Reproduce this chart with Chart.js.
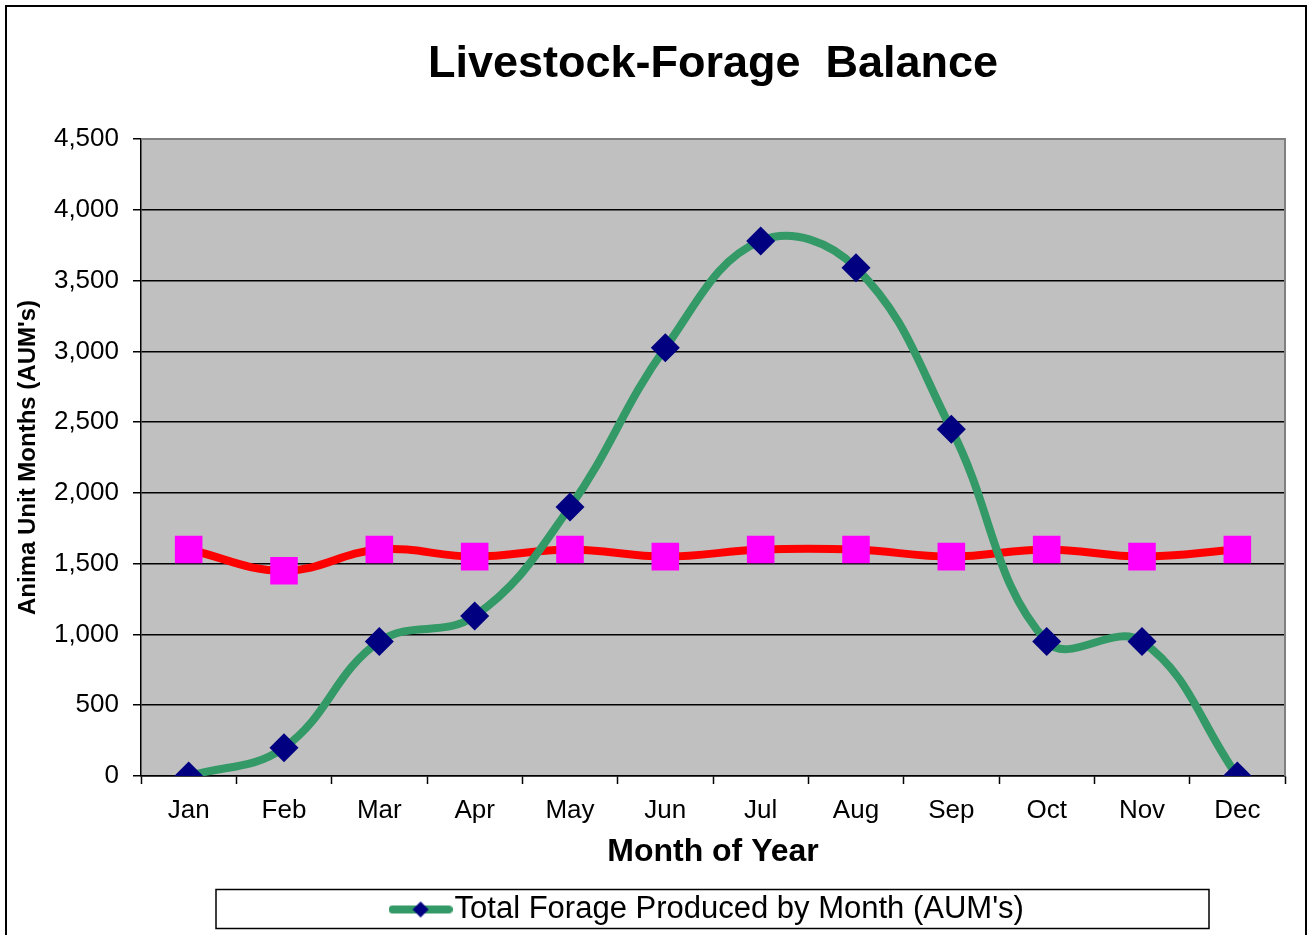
<!DOCTYPE html>
<html>
<head>
<meta charset="utf-8">
<script src="https://cdn.jsdelivr.net/npm/chart.js@4/dist/chart.umd.min.js"></script>
<style>
  html,body{margin:0;padding:0;background:#fff}
  #wrap{width:1311px;height:935px}
</style>
</head>
<body>
<div id="wrap"><canvas id="chart" width="1311" height="935"></canvas></div>
<script>
const months=['Jan','Feb','Mar','Apr','May','Jun','Jul','Aug','Sep','Oct','Nov','Dec']
const forage=[0,200,950,1130,1900,3025,3780,3590,2450,950,950,0]
const demand=[1600,1450,1600,1550,1600,1550,1600,1600,1550,1600,1550,1600]
const forageLabel="Total Forage Produced by Month (AUM's)"
const demandLabel="Livestock Demand by Month (AUM's)"
const font='"Liberation Sans", Arial, sans-serif'

// legend symbol: green line with navy diamond
function legendSymbol(){
    const c=document.createElement('canvas')
    c.width=64
    c.height=22
    const g=c.getContext('2d')
    g.strokeStyle='#339966'
    g.lineWidth=8
    g.lineCap='round'
    g.beginPath()
    g.moveTo(4,11)
    g.lineTo(60,11)
    g.stroke()
    g.fillStyle='#000080'
    g.beginPath()
    g.moveTo(32,3)
    g.lineTo(40,11)
    g.lineTo(32,19)
    g.lineTo(24,11)
    g.closePath()
    g.fill()
    return c
}
const symbol=legendSymbol()

const frame={
    id:'frame',
    beforeDraw(chart){
        const {ctx,chartArea:a}=chart
        ctx.save()
        ctx.fillStyle='#fff'
        ctx.fillRect(0,0,chart.width,chart.height)
        ctx.strokeStyle='#000'
        ctx.lineWidth=2
        ctx.strokeRect(6,6,1300,chart.height+20)
        ctx.fillStyle='#C0C0C0'
        ctx.fillRect(a.left,a.top,a.right-a.left,a.bottom-a.top)
        ctx.restore()
    },
    beforeDatasetsDraw(chart){
        const {ctx,chartArea:a}=chart
        ctx.save()
        ctx.strokeStyle='#808080'
        ctx.lineWidth=2
        ctx.beginPath()
        ctx.moveTo(a.left,a.top)
        ctx.lineTo(a.right,a.top)
        ctx.lineTo(a.right,a.bottom)
        ctx.stroke()
        ctx.restore()
    },
    afterDraw(chart){
        const {ctx,chartArea:a,legend}=chart
        const cx=(a.left+a.right)/2
        const cy=legend.top+25.5
        ctx.save()
        ctx.strokeStyle='#000'
        ctx.lineWidth=1.5
        ctx.strokeRect(cx-497,cy-20,993,39)
        ctx.restore()
    }
}

const ctx=document.getElementById('chart')
new Chart(ctx,{
    type:'line',
    data:{
        labels:months,
        datasets:[{
            label:forageLabel,
            data:forage,
            borderColor:'#339966',
            borderWidth:8,
            backgroundColor:'#000080',
            pointStyle:'rectRot',
            pointRadius:14.5,
            pointBorderWidth:0,
            pointBackgroundColor:'#000080',
            tension:0.4,
            order:1
        },{
            label:demandLabel,
            data:demand,
            borderColor:'#FF0000',
            borderWidth:8,
            pointStyle:'rect',
            pointRadius:19.5,
            pointBorderWidth:0,
            pointBackgroundColor:'#FF00FF',
            tension:0.4,
            order:2
        }]
    },
    options:{
        responsive:false,
        animation:false,
        layout:{padding:{left:8,right:26,top:8,bottom:0}},
        plugins:{
            tooltip:{enabled:false},
            title:{
                display:true,
                fullSize:false,
                text:'Livestock-Forage  Balance',
                color:'#000',
                font:{family:font,size:45,weight:'bold'},
                padding:{top:30,bottom:47}
            },
            legend:{
                position:'bottom',
                fullSize:false,
                labels:{
                    filter:item=>item.datasetIndex===0,
                    usePointStyle:true,
                    pointStyleWidth:37,
                    generateLabels:chart=>[{
                        text:forageLabel,
                        pointStyle:symbol,
                        datasetIndex:0,
                        fontColor:'#000',
                        lineWidth:0,
                        strokeStyle:'transparent',
                        fillStyle:'transparent'
                    }],
                    color:'#000',
                    font:{family:font,size:31},
                    padding:10
                }
            }
        },
        scales:{
            x:{
                offset:true,
                grid:{
                    offset:true,
                    drawOnChartArea:false,
                    tickLength:8,
                    tickColor:'#000',
                    tickWidth:1.5
                },
                border:{display:true,color:'#000',width:1.5},
                ticks:{color:'#000',font:{family:font,size:26},padding:11},
                title:{
                    display:true,
                    text:'Month of Year',
                    color:'#000',
                    font:{family:font,size:32,weight:'bold'},
                    padding:{top:0,bottom:13}
                },
                afterFit:s=>{s.height=108}
            },
            y:{
                min:0,
                max:4500,
                ticks:{
                    stepSize:500,
                    color:'#000',
                    font:{family:font,size:26},
                    padding:14,
                    callback:v=>v.toLocaleString('en-US')
                },
                grid:{
                    color:c=>c.tick&&c.tick.value===4500?'#808080':'#000',
                    lineWidth:1.5,
                    tickLength:8,
                    tickColor:'#000',
                    tickWidth:1.5
                },
                border:{display:true,color:'#000',width:1.5},
                title:{
                    display:true,
                    text:"Anima Unit Months (AUM's)",
                    color:'#000',
                    font:{family:font,size:24,weight:'bold'},
                    padding:{top:6,bottom:0}
                },
                afterFit:s=>{s.width=133}
            }
        }
    },
    plugins:[frame]
})
</script>
</body>
</html>
